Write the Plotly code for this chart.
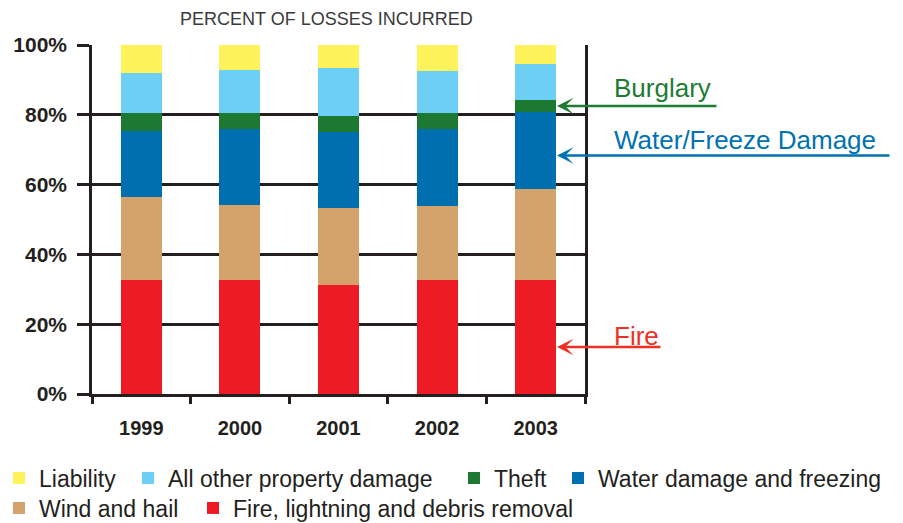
import plotly.graph_objects as go

years = ["1999", "2000", "2001", "2002", "2003"]
fire = [32.6, 32.6, 31.1, 32.8, 32.8]
wind = [23.8, 21.5, 22.3, 21.1, 25.9]
water = [19.0, 21.7, 21.8, 22.0, 22.1]
theft = [5.2, 4.8, 4.5, 4.6, 3.4]
other = [11.4, 12.3, 13.7, 12.0, 10.3]
liability = [8.0, 7.1, 6.6, 7.5, 5.5]

series_names = [
    "Fire, lightning and debris removal",
    "Wind and hail",
    "Water damage and freezing",
    "Theft",
    "All other property damage",
    "Liability",
]
series_values = [fire, wind, water, theft, other, liability]
series_colors = ["#ED1C24", "#D3A36B", "#006FB0", "#1D7832", "#6DCFF6", "#FFF35C"]
tick_vals = [0, 20, 40, 60, 80, 100]
tick_text = ["0%", "20%", "40%", "60%", "80%", "100%"]

ink = "#231F20"

# legend slot per series: (legend id, square-left px, row centre px)
legend_slots = [
    ("legend6", 207, 508),
    ("legend5", 13, 508),
    ("legend4", 572, 478),
    ("legend3", 468, 478),
    ("legend2", 142, 478),
    ("legend", 13, 478),
]

PL, PR, PT, PB = 92, 585, 45, 394
PW, PH = PR - PL, PB - PT

fig = go.Figure()
for name, vals, col, slot in zip(series_names, series_values, series_colors, legend_slots):
    fig.add_trace(go.Bar(x=years, y=vals, name=name, legend=slot[0], showlegend=True,
                         marker=dict(color=col, line=dict(width=0))))

layout_legends = {}
for lid, sq_left, row_y in legend_slots:
    layout_legends[lid] = dict(
        x=(sq_left - 14 - PL) / PW,
        xanchor="left",
        y=(PB - row_y) / PH,
        yanchor="middle",
        font=dict(size=23, color=ink),
        itemclick=False,
        bgcolor="rgba(0,0,0,0)",
        borderwidth=0,
    )

fig.update_layout(
    barmode="stack",
    bargap=0.584,
    width=903,
    height=523,
    showlegend=True,
    margin=dict(l=PL, r=903 - PR, t=PT, b=523 - PB, autoexpand=False),
    plot_bgcolor="white",
    paper_bgcolor="white",
    font=dict(family="Liberation Sans, Arial, sans-serif", color=ink),
    **layout_legends,
)

fig.update_xaxes(
    showline=True,
    linecolor=ink,
    linewidth=2.5,
    ticks="outside",
    tickson="boundaries",
    ticklen=7,
    tickwidth=2.5,
    tickcolor=ink,
    tickfont=dict(size=20, color=ink, weight="bold"),
    ticklabelstandoff=14,
    showgrid=False,
)
fig.update_yaxes(
    range=[0, 100],
    tickmode="array",
    tickvals=tick_vals,
    ticktext=tick_text,
    showline=True,
    mirror=True,
    linecolor=ink,
    linewidth=2.5,
    ticks="outside",
    ticklen=12,
    tickwidth=2.5,
    tickcolor=ink,
    tickfont=dict(size=21, color=ink, weight="bold"),
    ticklabelstandoff=6,
    showgrid=True,
    gridcolor=ink,
    gridwidth=2.5,
    zeroline=False,
)

# Title
fig.add_annotation(
    text="PERCENT OF LOSSES INCURRED",
    xref="paper", yref="paper", x=(326 - PL) / PW, y=(PB - 19) / PH,
    xanchor="center", yanchor="middle", showarrow=False,
    font=dict(size=18, color="#3A3A3A"),
)

# Callouts: (label, colour, text centre y px, arrow y px, tail end x px)
callouts = [
    ("Burglary", "#1E7B34", 88, 106, 718),
    ("Water/Freeze Damage", "#0072B1", 139.5, 155.5, 891),
    ("Fire", "#EE3124", 335.5, 347, 662),
]
head_px = 557
for label, col, ty, ay_px, tail_px in callouts:
    fig.add_annotation(
        text="", xref="paper", yref="paper",
        x=(head_px - PL) / PW, y=(PB - ay_px) / PH,
        showarrow=True, axref="pixel", ayref="pixel", ax=tail_px - head_px, ay=0,
        arrowhead=3, arrowsize=1.1, arrowwidth=2.5, arrowcolor=col, standoff=0,
    )
    fig.add_annotation(
        text=label, xref="paper", yref="paper", x=(612 - PL) / PW, y=(PB - ty) / PH,
        xanchor="left", yanchor="middle", showarrow=False,
        font=dict(size=26, color=col),
    )

fig.write_html(
    "out.html",
    config={"displayModeBar": False},
    post_script="document.body.style.margin='0';document.body.style.padding='0';",
)
